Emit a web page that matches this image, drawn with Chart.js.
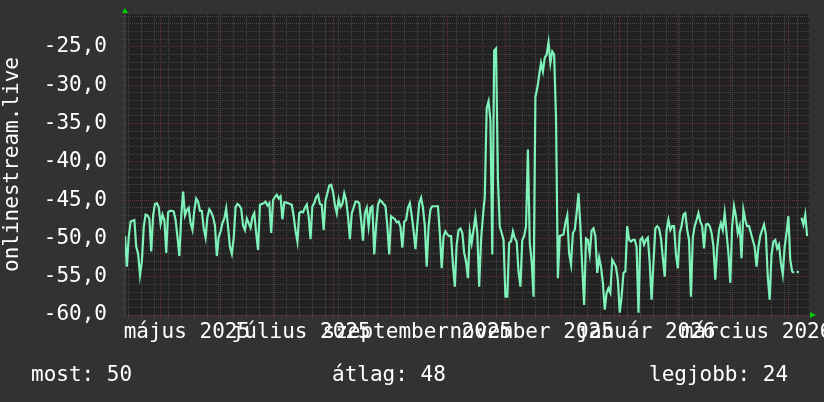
<!DOCTYPE html>
<html>
<head>
<meta charset="utf-8">
<script src="https://cdn.jsdelivr.net/npm/chart.js@4"></script>
<style>
  html, body { margin: 0; padding: 0; background: #323232; }
  #wrap { width: 824px; height: 402px; }
</style>
</head>
<body>
<div id="wrap"><canvas id="rrdchart"></canvas></div>
<script>
// one value per day, starting 2025-04-12
const startDate = new Date(2025, 3, 12);
const daysShown = 365;
const onlineValues = [
  -49.7, -53.7, -49.8, -47.8, -47.7, -47.6, -51.1, -52.0, -54.8, -53.0,
  -48.5, -46.9, -47.0, -47.4, -51.7, -47.0, -45.5, -45.4, -45.9, -48.1,
  -46.9, -47.6, -51.9, -46.6, -46.4, -46.4, -46.5, -47.6, -49.8, -52.3,
  -47.2, -43.9, -47.0, -46.3, -46.0, -48.0, -48.9, -46.3, -44.8, -45.2,
  -46.4, -46.4, -48.7, -49.9, -47.2, -46.2, -46.6, -47.2, -48.3, -52.3,
  -49.8, -49.1, -48.0, -47.4, -46.1, -48.5, -51.1, -52.0, -50.0, -45.9,
  -45.5, -45.7, -46.1, -48.3, -48.9, -47.4, -48.0, -48.6, -47.2, -46.7,
  -49.3, -51.5, -45.6, -45.5, -45.4, -45.2, -45.7, -45.4, -49.3, -45.0,
  -44.6, -44.3, -44.8, -44.5, -47.5, -45.3, -45.3, -45.4, -45.5, -45.6,
  -47.1, -49.0, -50.4, -46.7, -46.5, -46.6, -46.0, -45.6, -47.1, -50.1,
  -45.8, -45.4, -44.6, -44.3, -45.5, -45.6, -48.9, -45.0, -44.1, -43.1,
  -43.0, -43.9, -45.6, -46.7, -44.9, -45.9, -45.5, -44.1, -45.0, -47.1,
  -50.1, -46.7, -46.0, -45.2, -45.2, -45.4, -47.6, -50.3, -46.7, -46.0,
  -48.4, -46.0, -45.8, -52.1, -48.4, -45.6, -45.0, -45.2, -45.5, -45.8,
  -48.4, -52.1, -47.1, -47.3, -47.5, -47.9, -47.8, -48.5, -51.2, -47.8,
  -47.6, -46.0, -45.4, -47.0, -49.0, -51.4, -48.2, -45.4, -44.7, -46.0,
  -48.4, -53.7, -48.4, -46.2, -45.8, -45.8, -45.8, -45.8, -49.3, -53.9,
  -49.7, -49.1, -49.5, -49.7, -49.7, -53.4, -56.3, -50.8, -48.9, -48.7,
  -49.3, -51.9, -53.0, -55.2, -49.1, -50.6, -48.9, -47.1, -49.3, -56.3,
  -50.2, -47.1, -44.5, -33.0, -32.1, -34.5, -52.1, -25.5, -25.2, -42.3,
  -48.5, -49.3, -50.2, -57.6, -57.6, -50.6, -50.4, -49.1, -50.0, -50.4,
  -54.3, -56.3, -50.2, -49.7, -48.4, -38.4, -50.6, -53.0, -57.6, -31.5,
  -30.4, -28.7, -27.1, -28.2, -26.4, -26.0, -24.4, -27.1, -25.6, -26.0,
  -34.3, -55.2, -49.7, -49.6, -49.5, -48.0, -47.0, -52.0, -53.4, -49.3,
  -48.9, -46.7, -44.1, -48.4, -53.7, -58.7, -50.0, -50.2, -52.0, -49.0,
  -48.7, -49.7, -54.5, -52.5, -53.7, -55.8, -59.3, -57.1, -56.5, -57.1,
  -52.8, -53.2, -53.7, -55.4, -59.7, -57.6, -54.5, -54.3, -48.4, -50.2,
  -50.4, -50.2, -50.2, -51.1, -59.7, -50.2, -49.9, -50.8, -50.2, -49.9,
  -53.2, -58.0, -53.2, -48.7, -48.4, -48.7, -50.0, -52.5, -55.0, -48.9,
  -47.6, -48.9, -48.4, -48.4, -52.1, -53.9, -49.3, -48.4, -46.9, -46.7,
  -48.9, -50.2, -57.6, -49.9, -48.4, -47.6, -46.7, -47.8, -48.4, -51.3,
  -48.2, -48.1, -48.4, -49.3, -51.0, -55.4, -51.3, -48.9, -48.0, -48.9,
  -46.7, -49.3, -51.9, -55.8, -48.4, -45.8, -47.1, -49.3, -48.4, -52.6,
  -46.3, -47.6, -48.4, -48.4, -49.3, -50.2, -51.1, -53.7, -51.1, -49.7,
  -48.9, -48.2, -49.5, -55.0, -58.0, -52.1, -50.4, -50.2, -51.3, -50.8,
  -53.2, -54.7, -51.1, -49.3, -47.1, -52.8, -54.3, -54.5, null, -54.4,
  null, -47.3, -48.2, -46.9, -49.7
];

const monthLabels = ['május 2025', 'július 2025', 'szeptember 2025', 'november 2025', 'január 2026', 'március 2026'];
const labelMonths = [4, 6, 8, 10, 12, 14];   // months counted from jan 2025
const yMin = -60, yMax = -20.7;
const statTexts = ['most: 50', 'átlag: 48', 'legjobb: 24'];

const lineColor = '#7ef2b8';
const minorGrid = '#474747';
const majorGrid = '#633232';
const monoFont = { family: 'DejaVu Sans Mono', size: 21 };

const dayOf = (y, m, d) => Math.round((new Date(y, m, d) - startDate) / 864e5);

const monthDays = [];
for (let m = 4; m < 16; m++) monthDays.push(dayOf(2025, m, 1));
const gridDays = [...monthDays];
for (let d = 2; d <= daysShown; d += 7) if (!monthDays.includes(d)) gridDays.push(d);
gridDays.sort((a, b) => a - b);
const labelDays = labelMonths.map(m => dayOf(2025, m, 15));

const yGridValues = [];
for (let v = yMin; v <= Math.floor(yMax); v++) yGridValues.push(v);

const rrdFrame = {
  id: 'rrdFrame',
  beforeDraw(chart) {
    const { ctx, chartArea: a } = chart;
    ctx.save();
    ctx.fillStyle = '#323232';
    ctx.fillRect(0, 0, chart.width, chart.height);
    ctx.fillStyle = '#222222';
    ctx.fillRect(a.left, a.top, a.right - a.left, a.bottom - a.top);
    ctx.restore();
  },
  afterDraw(chart) {
    const { ctx, chartArea: a } = chart;
    ctx.save();
    ctx.fillStyle = '#00d000';
    ctx.beginPath();
    ctx.moveTo(a.left, a.top - 6);
    ctx.lineTo(a.left - 3, a.top - 1);
    ctx.lineTo(a.left + 3, a.top - 1);
    ctx.closePath();
    ctx.fill();
    ctx.beginPath();
    ctx.moveTo(a.right + 7, a.bottom);
    ctx.lineTo(a.right + 1, a.bottom - 3);
    ctx.lineTo(a.right + 1, a.bottom + 3);
    ctx.closePath();
    ctx.fill();

    ctx.fillStyle = '#ffffff';
    ctx.font = '21px "DejaVu Sans Mono"';
    ctx.textBaseline = 'alphabetic';
    ctx.fillText(statTexts[0], 31, 381);
    ctx.fillText(statTexts[1], 332, 381);
    ctx.fillText(statTexts[2], 649, 381);
    ctx.restore();
  }
};

new Chart(document.getElementById('rrdchart'), {
  type: 'line',
  data: {
    datasets: [{
      data: onlineValues.map((v, i) => ({ x: i, y: v })),
      borderColor: lineColor,
      backgroundColor: lineColor,
      borderWidth: 2.2,
      tension: 0,
      spanGaps: false,
      pointBorderWidth: 0,
      pointRadius: c => {
        const i = c.dataIndex;
        const isolated = onlineValues[i] != null && onlineValues[i - 1] == null && onlineValues[i + 1] == null;
        return isolated ? 1.3 : 0;
      }
    }]
  },
  options: {
    responsive: true,
    maintainAspectRatio: false,
    animation: false,
    events: [],
    layout: { padding: { top: 14, right: 15, bottom: 0, left: 0 } },
    plugins: { legend: { display: false }, tooltip: { enabled: false } },
    scales: {
      x: {
        type: 'linear', position: 'bottom', weight: 0,
        min: 0, max: daysShown,
        afterBuildTicks: s => { s.ticks = gridDays.map(v => ({ value: v })); },
        afterFit: s => { s.height = 0; s.paddingLeft = 0; s.paddingRight = 0; },
        ticks: { display: false },
        grid: {
          color: c => monthDays.includes(c.tick.value) ? majorGrid : minorGrid,
          tickLength: 3
        },
        border: { display: false, dash: [1, 1] }
      },
      xLabels: {
        type: 'linear', axis: 'x', position: 'bottom', weight: 1,
        min: 0, max: daysShown,
        afterBuildTicks: s => { s.ticks = labelDays.map(v => ({ value: v })); },
        afterFit: s => { s.height = 87; s.paddingLeft = 0; s.paddingRight = 0; },
        grid: { display: false, drawTicks: false },
        border: { display: false },
        ticks: {
          autoSkip: false, maxRotation: 0, minRotation: 0,
          color: '#ffffff', font: monoFont, padding: 5,
          callback: (v, i) => monthLabels[i]
        }
      },
      y: {
        min: yMin, max: yMax,
        afterBuildTicks: s => { s.ticks = yGridValues.map(v => ({ value: v })); },
        afterFit: s => { s.width = 125; s.paddingTop = 0; s.paddingBottom = 0; },
        ticks: {
          autoSkip: false, color: '#ffffff', font: monoFont, padding: 15,
          callback: v => (v % 5 === 0 && v <= -25) ? v.toFixed(1).replace('.', ',') : ''
        },
        grid: {
          color: c => c.tick.value % 5 === 0 ? majorGrid : minorGrid,
          tickLength: 3
        },
        border: { dash: [1, 1], color: '#3a3a3a', width: 2 },
        title: { display: true, text: 'onlinestream.live', color: '#ffffff', font: monoFont, padding: 0 }
      }
    }
  },
  plugins: [rrdFrame]
});
</script>
</body>
</html>
